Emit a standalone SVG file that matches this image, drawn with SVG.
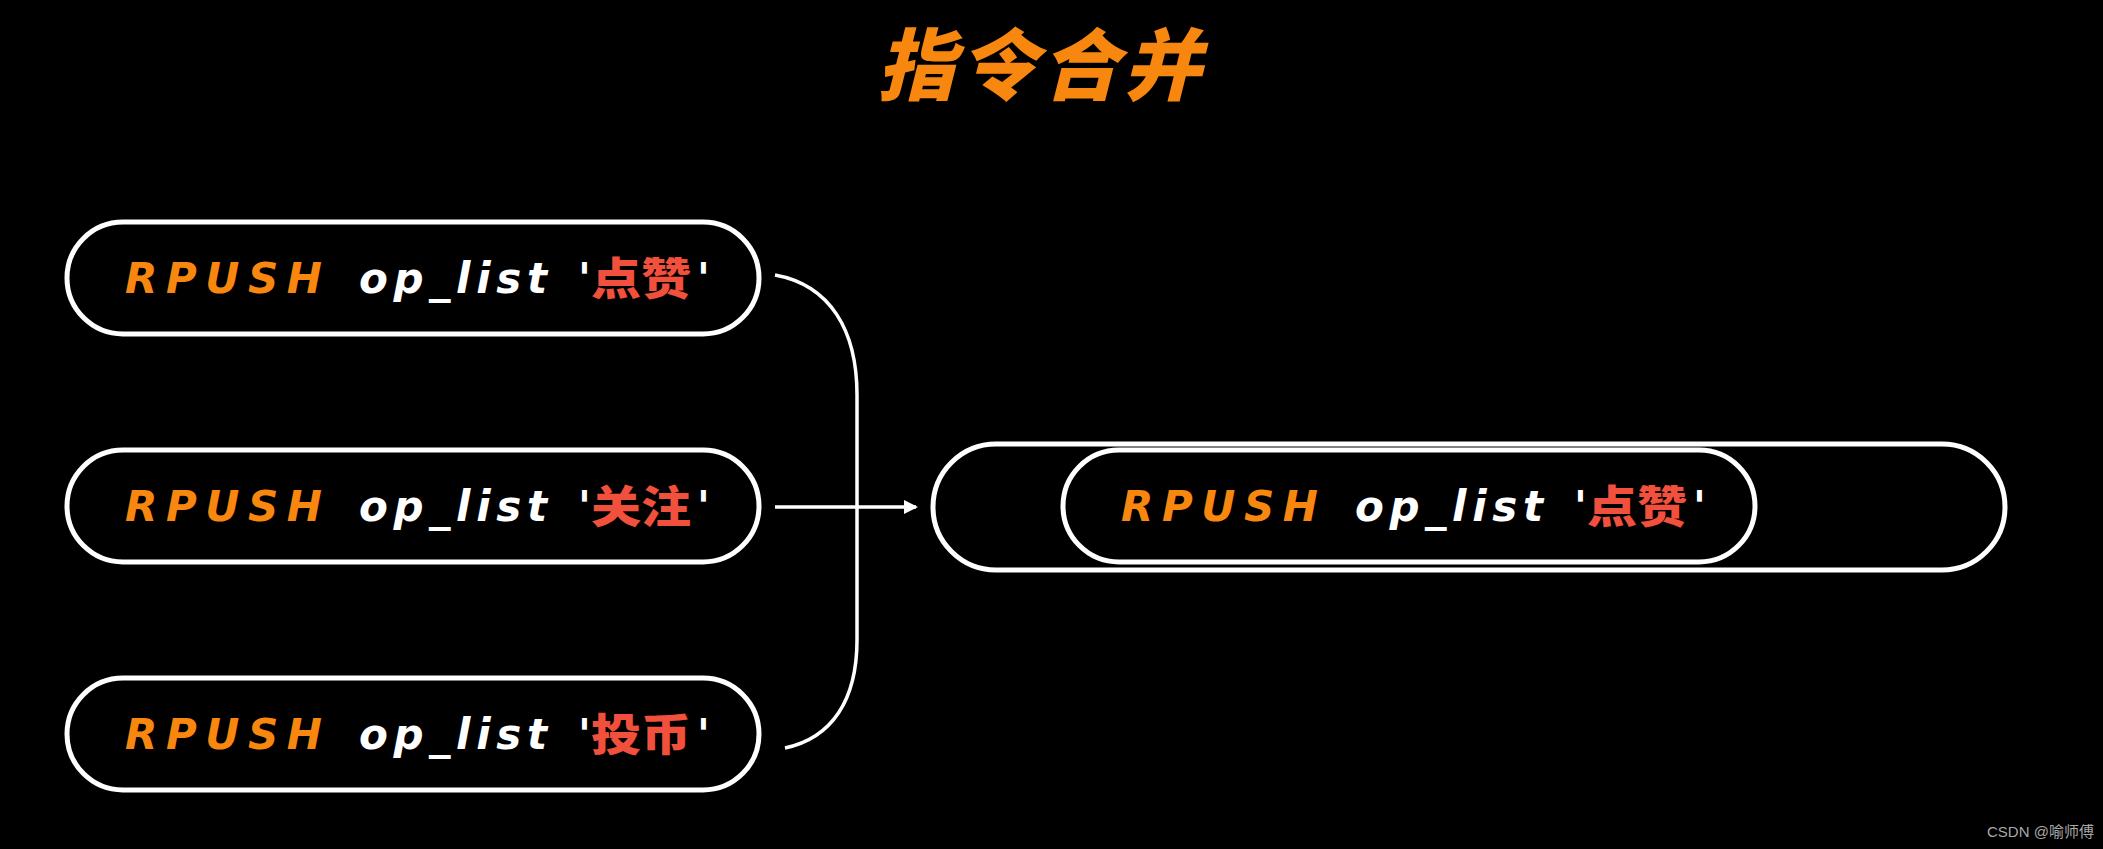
<svg xmlns="http://www.w3.org/2000/svg" width="2103" height="849" viewBox="0 0 2103 849">
<style>
.pill{fill:#000;stroke:#fff;stroke-width:5}
.t{font-family:"DejaVu Sans","Noto Sans CJK SC",sans-serif;font-weight:bold;font-style:oblique;font-size:42px}
.cmd{fill:#F7870F}
.key{fill:#fff}
.zh{fill:#F0503C;font-family:"Noto Sans CJK SC",sans-serif;font-weight:900;font-size:44px}
.conn{fill:none;stroke:#fff;stroke-width:3.5}
</style>
<defs>
<marker id="ah" markerWidth="14" markerHeight="14" refX="12" refY="7" orient="auto" markerUnits="userSpaceOnUse" viewBox="0 0 14 14">
<path d="M0 0 L14 7 L0 14 Z" fill="#fff"/>
</marker>
</defs>
<rect width="2103" height="849" fill="#000"/>
<text x="1041" y="94" text-anchor="middle" font-family="Noto Sans CJK SC, sans-serif" font-weight="900" font-size="78" font-style="italic" fill="#F7870F" letter-spacing="4">指令合并</text>

<g id="connectors">
<path class="conn" d="M775 275 C830 285 857 330 857 395 L857 640 C857 700 832 738 785 748"/>
<path class="conn" d="M775 507 L916 507" marker-end="url(#ah)"/>
</g>

<g id="node-dianzan">
<rect class="pill" x="67" y="222" width="692" height="112" rx="56"/>
<text class="t cmd" x="125" y="293" textLength="197" lengthAdjust="spacing">RPUSH</text>
<text class="t key" x="359" y="293" textLength="188" lengthAdjust="spacing">op_list</text>
<text class="t key" x="578" y="293">'</text>
<text class="zh" x="591" y="295" textLength="100" lengthAdjust="spacingAndGlyphs">点赞</text>
<text class="t key" x="697" y="293">'</text>
</g>

<g id="node-guanzhu">
<rect class="pill" x="67" y="450" width="692" height="112" rx="56"/>
<text class="t cmd" x="125" y="521" textLength="197" lengthAdjust="spacing">RPUSH</text>
<text class="t key" x="359" y="521" textLength="188" lengthAdjust="spacing">op_list</text>
<text class="t key" x="578" y="521">'</text>
<text class="zh" x="591" y="523" textLength="100" lengthAdjust="spacingAndGlyphs">关注</text>
<text class="t key" x="697" y="521">'</text>
</g>

<g id="node-toubi">
<rect class="pill" x="67" y="678" width="692" height="112" rx="56"/>
<text class="t cmd" x="125" y="749" textLength="197" lengthAdjust="spacing">RPUSH</text>
<text class="t key" x="359" y="749" textLength="188" lengthAdjust="spacing">op_list</text>
<text class="t key" x="578" y="749">'</text>
<text class="zh" x="591" y="751" textLength="100" lengthAdjust="spacingAndGlyphs">投币</text>
<text class="t key" x="697" y="749">'</text>
</g>

<g id="node-merged">
<rect class="pill" x="933" y="444" width="1072" height="126" rx="63"/>
<g id="node-merged-item">
<rect class="pill" x="1063" y="450" width="692" height="112" rx="56"/>
<text class="t cmd" x="1121" y="521" textLength="197" lengthAdjust="spacing">RPUSH</text>
<text class="t key" x="1355" y="521" textLength="188" lengthAdjust="spacing">op_list</text>
<text class="t key" x="1574" y="521">'</text>
<text class="zh" x="1587" y="523" textLength="100" lengthAdjust="spacingAndGlyphs">点赞</text>
<text class="t key" x="1693" y="521">'</text>
</g>
</g>

<text x="1987" y="837" font-family="Liberation Sans, Noto Sans CJK SC, sans-serif" font-size="15" fill="#a8a8a8">CSDN @喻师傅</text>
</svg>
